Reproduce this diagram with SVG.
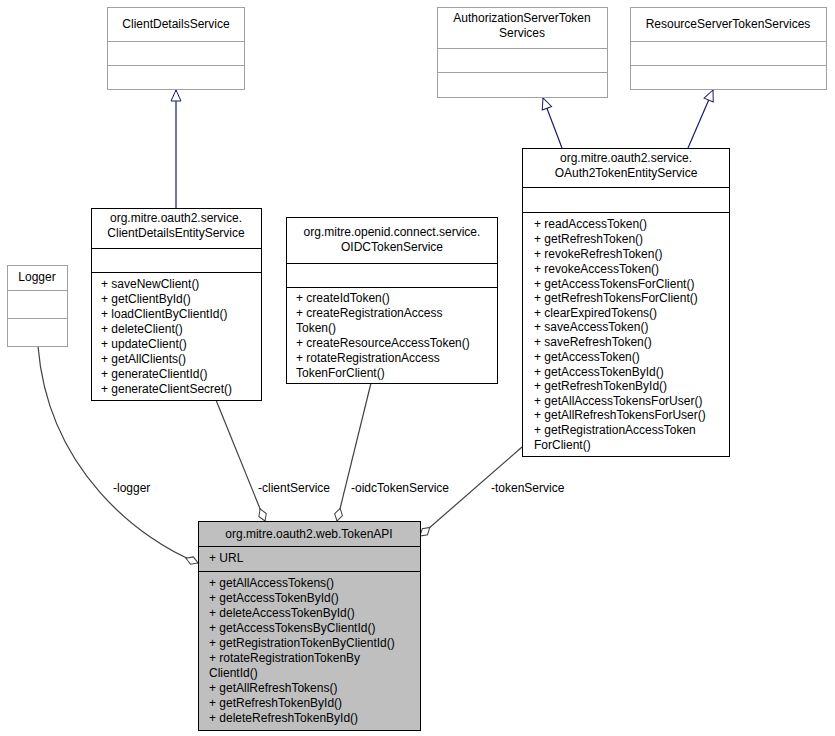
<svg xmlns="http://www.w3.org/2000/svg" width="835" height="736" viewBox="0 0 835 736">
<style>
text{font-family:"Liberation Sans",Arial,sans-serif;font-size:12px;fill:#000}
.b{fill:#fff;stroke:#000;stroke-width:1}
.g{fill:#fff;stroke:#a0a0a0;stroke-width:1}
.gl{stroke:#a0a0a0}
.l{stroke:#000}
.inh{fill:none;stroke:#191970;stroke-width:1.2}
.agg{fill:none;stroke:#404040;stroke-width:1.2}
.c{text-anchor:middle}
</style>
<defs>
<marker id="tri" markerWidth="14" markerHeight="14" refX="12" refY="6" orient="auto" markerUnits="userSpaceOnUse"><path d="M1,1 L12,6 L1,11 Z" fill="#fff" stroke="#191970"/></marker>
<marker id="dia" markerWidth="16" markerHeight="10" refX="14" refY="5" orient="auto" markerUnits="userSpaceOnUse"><path d="M1,5 L7.5,1 L14,5 L7.5,9 Z" fill="#fff" stroke="#404040"/></marker>
</defs>
<rect width="835" height="736" fill="#fff"/>
<g id="connectors">
<path class="inh" d="M176,208 L176,90" marker-end="url(#tri)"/>
<path class="inh" d="M562,148 L543,98" marker-end="url(#tri)"/>
<path class="inh" d="M688,148 L713,90" marker-end="url(#tri)"/>
<path class="agg" d="M38,346 C48,470 140,540 198,563" marker-end="url(#dia)"/>
<path class="agg" d="M216,400 L265,521" marker-end="url(#dia)"/>
<path class="agg" d="M371,383 L337,521" marker-end="url(#dia)"/>
<path class="agg" d="M522,447 L420,536" marker-end="url(#dia)"/>
<text x="113" y="492">-logger</text>
<text x="258" y="492">-clientService</text>
<text x="351" y="492">-oidcTokenService</text>
<text x="491" y="492">-tokenService</text>
</g>
<g id="ClientDetailsService">
<rect class="g" x="107.5" y="7.5" width="137" height="82"/>
<line class="gl" x1="107.5" y1="41.5" x2="244.5" y2="41.5"/><line class="gl" x1="107.5" y1="65.5" x2="244.5" y2="65.5"/>
<text class="c" x="176" y="28">ClientDetailsService</text>
</g>
<g id="AuthorizationServerTokenServices">
<rect class="g" x="437.5" y="7.5" width="170" height="90"/>
<line class="gl" x1="437.5" y1="48.5" x2="607.5" y2="48.5"/><line class="gl" x1="437.5" y1="72.5" x2="607.5" y2="72.5"/>
<text class="c" x="522" y="22">AuthorizationServerToken</text><text class="c" x="522" y="37">Services</text>
</g>
<g id="ResourceServerTokenServices">
<rect class="g" x="630.5" y="7.5" width="196" height="82"/>
<line class="gl" x1="630.5" y1="41.5" x2="826.5" y2="41.5"/><line class="gl" x1="630.5" y1="65.5" x2="826.5" y2="65.5"/>
<text class="c" x="728" y="28">ResourceServerTokenServices</text>
</g>
<g id="Logger">
<rect class="g" x="7.5" y="265.5" width="60" height="81"/>
<line class="gl" x1="7.5" y1="290.5" x2="67.5" y2="290.5"/><line class="gl" x1="7.5" y1="318.5" x2="67.5" y2="318.5"/>
<text class="c" x="37" y="281">Logger</text>
</g>
<g id="ClientDetailsEntityService">
<rect class="b" x="91.5" y="208.5" width="170" height="192"/>
<line class="l" x1="91.5" y1="248.5" x2="261.5" y2="248.5"/><line class="l" x1="91.5" y1="272.5" x2="261.5" y2="272.5"/>
<text class="c" x="176" y="222">org.mitre.oauth2.service.</text><text class="c" x="176" y="237">ClientDetailsEntityService</text>
<text x="101" y="288">+ saveNewClient()</text>
<text x="101" y="303">+ getClientById()</text>
<text x="101" y="318">+ loadClientByClientId()</text>
<text x="101" y="333">+ deleteClient()</text>
<text x="101" y="348">+ updateClient()</text>
<text x="101" y="363">+ getAllClients()</text>
<text x="101" y="378">+ generateClientId()</text>
<text x="101" y="393">+ generateClientSecret()</text>
</g>
<g id="OIDCTokenService">
<rect class="b" x="286.5" y="217.5" width="211" height="166"/>
<line class="l" x1="286.5" y1="263.5" x2="497.5" y2="263.5"/><line class="l" x1="286.5" y1="287.5" x2="497.5" y2="287.5"/>
<text class="c" x="392" y="236">org.mitre.openid.connect.service.</text><text class="c" x="392" y="251">OIDCTokenService</text>
<text x="296" y="302">+ createIdToken()</text>
<text x="296" y="317">+ createRegistrationAccess</text>
<text x="296" y="332">Token()</text>
<text x="296" y="347">+ createResourceAccessToken()</text>
<text x="296" y="362">+ rotateRegistrationAccess</text>
<text x="296" y="377">TokenForClient()</text>
</g>
<g id="OAuth2TokenEntityService">
<rect class="b" x="522.5" y="148.5" width="207" height="308"/>
<line class="l" x1="522.5" y1="187.5" x2="729.5" y2="187.5"/><line class="l" x1="522.5" y1="212.5" x2="729.5" y2="212.5"/>
<text class="c" x="626" y="162">org.mitre.oauth2.service.</text><text class="c" x="626" y="177">OAuth2TokenEntityService</text>
<text x="534" y="228">+ readAccessToken()</text>
<text x="534" y="243">+ getRefreshToken()</text>
<text x="534" y="258">+ revokeRefreshToken()</text>
<text x="534" y="273">+ revokeAccessToken()</text>
<text x="534" y="288">+ getAccessTokensForClient()</text>
<text x="534" y="302">+ getRefreshTokensForClient()</text>
<text x="534" y="317">+ clearExpiredTokens()</text>
<text x="534" y="331">+ saveAccessToken()</text>
<text x="534" y="346">+ saveRefreshToken()</text>
<text x="534" y="361">+ getAccessToken()</text>
<text x="534" y="376">+ getAccessTokenById()</text>
<text x="534" y="390">+ getRefreshTokenById()</text>
<text x="534" y="405">+ getAllAccessTokensForUser()</text>
<text x="534" y="419">+ getAllRefreshTokensForUser()</text>
<text x="534" y="434">+ getRegistrationAccessToken</text>
<text x="534" y="449">ForClient()</text>
</g>
<g id="TokenAPI">
<rect x="198.5" y="521.5" width="222" height="209" fill="#bfbfbf" stroke="#000"/>
<line class="l" x1="198.5" y1="546.5" x2="420.5" y2="546.5"/><line class="l" x1="198.5" y1="571.5" x2="420.5" y2="571.5"/>
<text class="c" x="309" y="538">org.mitre.oauth2.web.TokenAPI</text>
<text x="209" y="562">+ URL</text>
<text x="209" y="587">+ getAllAccessTokens()</text>
<text x="209" y="602">+ getAccessTokenById()</text>
<text x="209" y="617">+ deleteAccessTokenById()</text>
<text x="209" y="632">+ getAccessTokensByClientId()</text>
<text x="209" y="647">+ getRegistrationTokenByClientId()</text>
<text x="209" y="662">+ rotateRegistrationTokenBy</text>
<text x="209" y="677">ClientId()</text>
<text x="209" y="692">+ getAllRefreshTokens()</text>
<text x="209" y="707">+ getRefreshTokenById()</text>
<text x="209" y="722">+ deleteRefreshTokenById()</text>
</g>
</svg>
